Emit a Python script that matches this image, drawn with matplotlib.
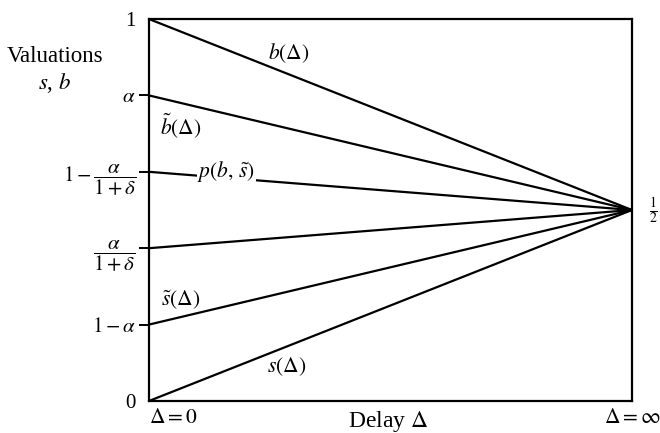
import matplotlib
matplotlib.use("Agg")
import matplotlib.pyplot as plt

plt.rcParams["font.family"] = ["Liberation Serif", "DejaVu Serif"]
plt.rcParams["mathtext.fontset"] = "stix"

# Verzoegerung: Start (0) und Ende (unendlich), als Achsenanteil
delay = [0.0, 1.0]
# Startwerte der Kurven bei Delta = 0, alle laufen gegen 1/2
start_vals = [1.0, 0.8, 0.6, 0.4, 0.2, 0.0]
end_val = 0.5

ytick_vals = [0.0, 0.2, 0.4, 0.6, 0.8, 1.0]
ytick_labels = ["0", r"$1-\alpha$", r"$\dfrac{\alpha}{1+\delta}$",
                r"$1-\dfrac{\alpha}{1+\delta}$", r"$\alpha$", "1"]
xtick_vals = [0.0, 1.0]
xtick_labels = [r"$\Delta=0$", r"$\Delta=\infty$"]

# Kurvenbeschriftungen: (x, y, text, weisser Hintergrund)
curve_labels = [
    (0.29, 0.91, r"$b(\Delta)$", False),
    (0.065, 0.72, r"$\tilde{b}(\Delta)$", False),
    (0.16, 0.60, r"$p(b,\,\tilde{s})$", True),
    (0.065, 0.265, r"$\tilde{s}(\Delta)$", False),
    (0.285, 0.09, r"$s(\Delta)$", False),
]

fig = plt.figure(figsize=(6.6, 4.33), dpi=100)
ax = fig.add_axes([0.2258, 0.074, 0.7318, 0.882])

for v in start_vals:
    ax.plot(delay, [v, end_val], color="black", lw=1.6, clip_on=False,
            solid_capstyle="butt")

for x, y, s, boxed in curve_labels:
    bbox = dict(facecolor="white", edgecolor="none", pad=0.5) if boxed else None
    ax.text(x, y, s, fontsize=15.5, ha="center", va="center", bbox=bbox)

ax.set_xlim(0, 1)
ax.set_ylim(0, 1)
for sp in ax.spines.values():
    sp.set_linewidth(1.6)

ax.set_yticks(ytick_vals)
ax.set_yticklabels(ytick_labels, fontsize=15)
ax.tick_params(axis="y", direction="out", length=7.5, width=1.4, pad=2)
ticks = ax.yaxis.get_major_ticks()
ticks[0].tick1line.set_visible(False)
ticks[-1].tick1line.set_visible(False)

ax.set_xticks(xtick_vals)
ax.set_xticklabels(xtick_labels, fontsize=15.5)
ax.tick_params(axis="x", length=0, pad=6)
ax.get_xticklabels()[0].set_ha("left")

ax.set_xlabel(r"Delay $\Delta$", fontsize=17)
ax.xaxis.set_label_coords(0.495, -0.022)
ax.xaxis.label.set_va("top")

ax.set_ylabel("Valuations\n$s$, $b$", fontsize=16.5, rotation=0,
              ha="center", va="center", linespacing=1.25)
ax.yaxis.set_label_coords(-0.195, 0.865)

ax.text(1.045, end_val, r"$\frac{1}{2}$", fontsize=14, ha="center",
        va="center", transform=ax.transAxes)

fig.savefig("out.png", dpi=100)
